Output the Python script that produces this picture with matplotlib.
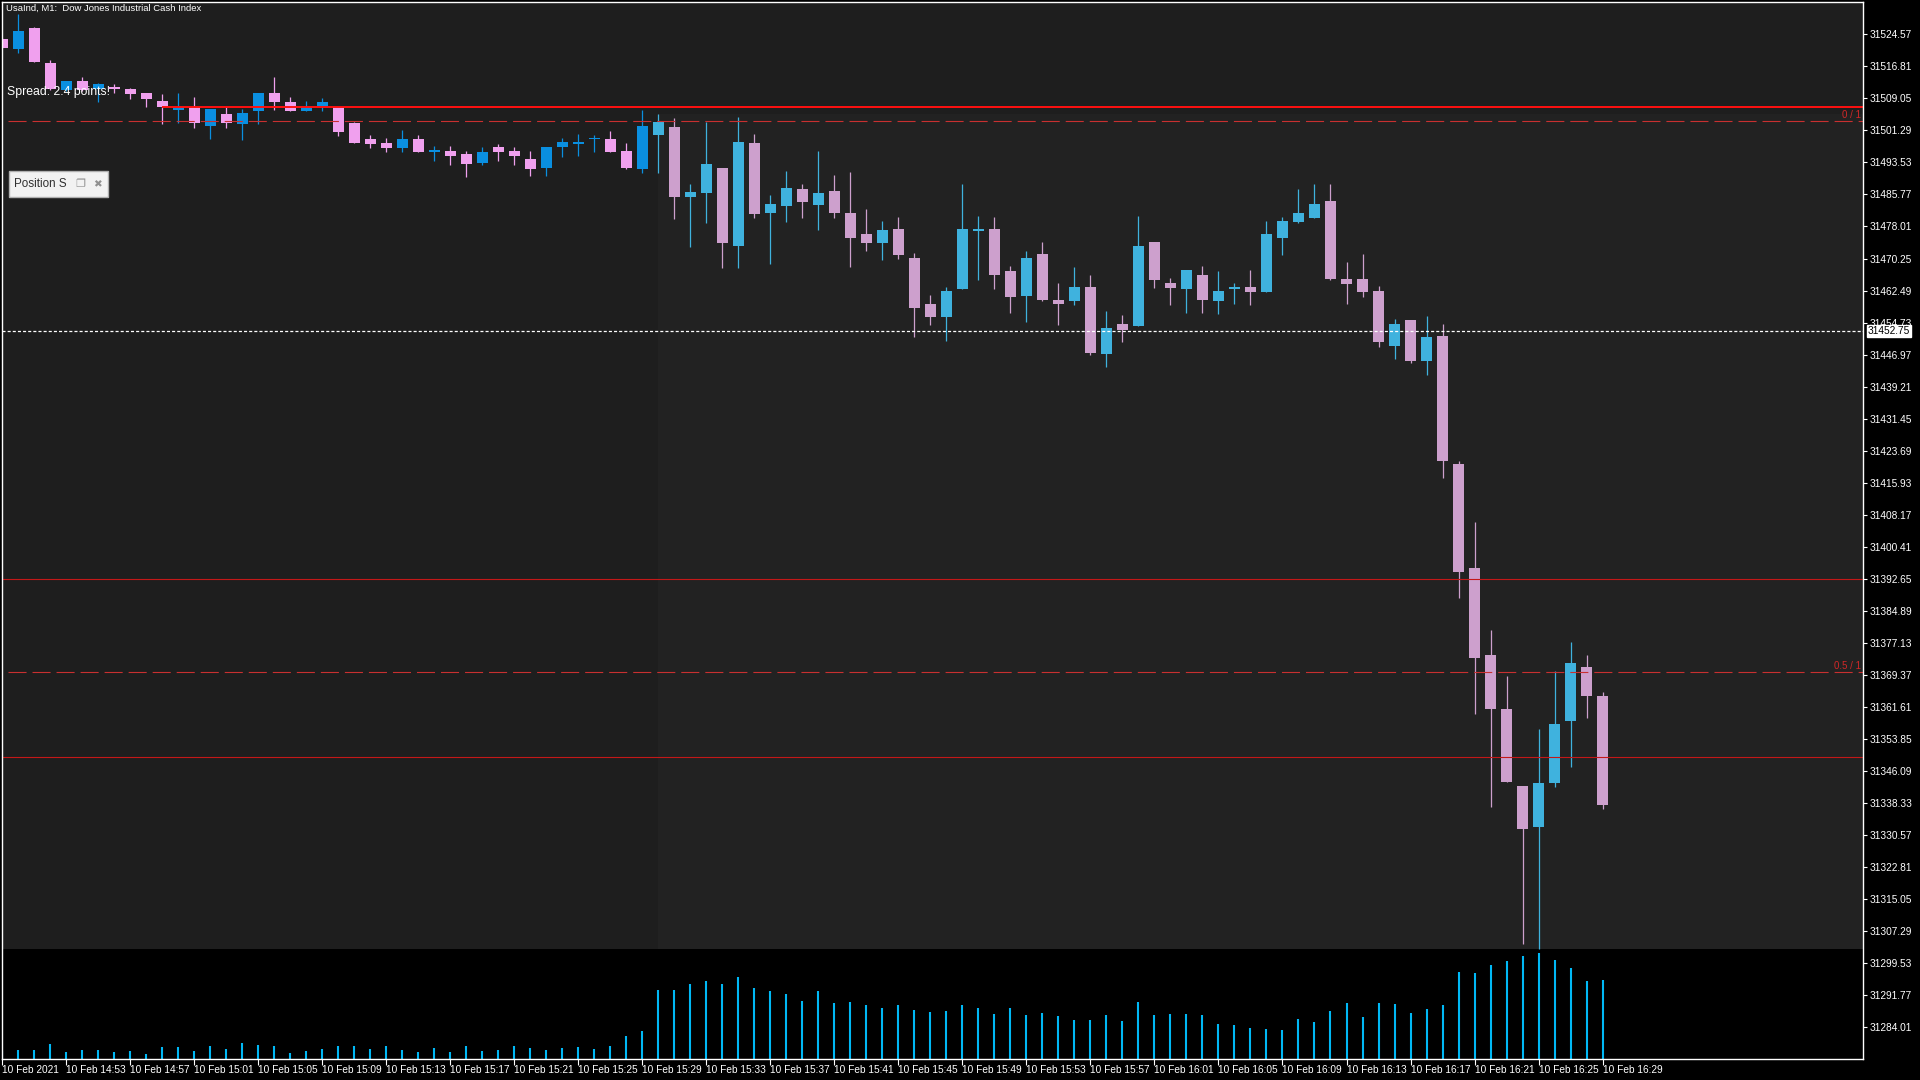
import numpy as np
import matplotlib
matplotlib.use("Agg")
import matplotlib.pyplot as plt
from matplotlib.patches import Rectangle
from matplotlib.transforms import Bbox, TransformedBbox

plt.rcParams['font.family'] = ['Liberation Sans', 'DejaVu Sans']
plt.rcParams['lines.scale_dashes'] = False

# one-minute bars, 10 Feb 2021 from 14:49 to 16:29
opens = [31523.43, 31521.01, 31526.10, 31517.54, 31511.07, 31513.26, 31511.24, 31511.45, 31511.32, 31510.35,
         31508.41, 31506.31, 31507.04, 31502.43, 31505.26, 31502.92, 31506.07, 31510.35, 31508.17, 31506.07,
         31507.20, 31507.04, 31503.08, 31499.20, 31498.15, 31497.10, 31499.20, 31496.13, 31496.30, 31495.57,
         31493.47, 31497.27, 31496.30, 31494.36, 31492.26, 31497.35, 31498.07, 31499.15, 31499.20, 31496.30,
         31492.02, 31500.25, 31502.11, 31485.15, 31486.12, 31492.17, 31473.28, 31498.23, 31481.27, 31482.97,
         31487.09, 31483.21, 31486.60, 31481.27, 31476.18, 31474.00, 31477.39, 31470.37, 31459.22, 31456.16,
         31462.94, 31476.91, 31477.40, 31467.23, 31461.17, 31471.35, 31460.20, 31459.96, 31463.35, 31447.12,
         31454.39, 31453.90, 31474.25, 31464.32, 31462.87, 31466.26, 31459.96, 31462.87, 31463.35, 31462.14,
         31475.22, 31479.10, 31480.07, 31484.19, 31465.29, 31465.29, 31462.38, 31449.06, 31455.31, 31445.32,
         31451.47, 31420.42, 31395.30, 31374.24, 31361.07, 31342.43, 31332.45, 31343.08, 31358.11, 31371.28,
         31364.26]
highs = [31523.60, 31529.49, 31526.42, 31518.34, 31513.30, 31514.14, 31512.69, 31512.53, 31511.48, 31510.35,
         31510.11, 31510.35, 31509.30, 31506.47, 31506.96, 31506.47, 31510.35, 31514.22, 31509.38, 31508.41,
         31509.14, 31507.04, 31503.32, 31500.25, 31499.53, 31501.38, 31500.17, 31497.51, 31497.51, 31496.30,
         31497.27, 31498.00, 31497.27, 31496.30, 31497.27, 31499.45, 31500.41, 31500.17, 31501.14, 31498.24,
         31506.23, 31505.26, 31504.29, 31488.30, 31503.32, 31492.17, 31504.53, 31500.41, 31485.63, 31491.45,
         31488.30, 31496.29, 31490.48, 31491.21, 31482.24, 31479.33, 31480.30, 31471.58, 31461.40, 31463.34,
         31488.30, 31480.55, 31480.31, 31468.44, 31472.07, 31474.25, 31464.32, 31468.20, 31466.26, 31457.54,
         31456.57, 31480.55, 31474.25, 31465.53, 31467.47, 31468.44, 31467.23, 31464.32, 31467.47, 31479.34,
         31480.31, 31487.09, 31488.31, 31488.31, 31469.41, 31471.35, 31463.59, 31455.60, 31455.31, 31456.29,
         31454.43, 31421.19, 31406.38, 31380.27, 31369.08, 31342.43, 31356.25, 31370.29, 31377.31, 31374.24,
         31365.24]
lows = [31521.20, 31520.12, 31517.94, 31511.07, 31510.90, 31510.91, 31508.25, 31510.27, 31508.98, 31507.04,
        31502.84, 31503.08, 31501.95, 31499.28, 31501.95, 31499.04, 31502.92, 31506.23, 31506.07, 31506.07,
        31506.07, 31500.01, 31498.32, 31497.10, 31496.13, 31496.13, 31496.13, 31493.87, 31492.99, 31490.08,
        31492.99, 31493.95, 31492.99, 31490.32, 31490.32, 31494.92, 31495.17, 31496.13, 31496.13, 31492.02,
        31491.05, 31491.05, 31479.90, 31473.12, 31478.93, 31468.03, 31468.03, 31480.14, 31469.00, 31479.17,
        31480.14, 31477.23, 31480.14, 31468.27, 31472.15, 31469.97, 31470.21, 31451.31, 31454.22, 31450.34,
        31462.94, 31465.12, 31462.87, 31457.05, 31454.87, 31459.96, 31454.14, 31458.99, 31446.88, 31443.97,
        31450.03, 31453.90, 31463.11, 31458.99, 31457.05, 31457.05, 31456.81, 31459.23, 31458.99, 31462.14,
        31471.10, 31478.86, 31480.07, 31465.05, 31459.23, 31460.93, 31448.81, 31445.91, 31444.89, 31442.14,
        31417.13, 31388.06, 31359.98, 31337.27, 31343.30, 31304.10, 31302.90, 31342.32, 31347.14, 31358.99,
        31336.94]
closes = [31521.33, 31525.37, 31517.94, 31511.24, 31513.26, 31511.07, 31512.53, 31511.40, 31510.19, 31508.98,
          31507.04, 31507.04, 31503.08, 31506.47, 31503.16, 31505.50, 31510.35, 31508.25, 31506.07, 31507.04,
          31508.17, 31500.98, 31498.32, 31498.07, 31497.10, 31499.20, 31496.13, 31496.54, 31495.17, 31493.23,
          31496.05, 31496.13, 31495.17, 31492.02, 31497.27, 31498.48, 31498.48, 31499.20, 31496.13, 31492.26,
          31502.35, 31503.32, 31485.15, 31486.36, 31493.14, 31474.00, 31498.47, 31481.03, 31483.45, 31487.33,
          31483.94, 31486.12, 31481.27, 31475.30, 31474.00, 31477.15, 31471.18, 31458.34, 31456.16, 31462.37,
          31477.39, 31477.39, 31466.26, 31460.93, 31470.38, 31460.20, 31459.23, 31463.35, 31447.36, 31453.42,
          31452.93, 31473.28, 31465.05, 31463.11, 31467.47, 31460.20, 31462.38, 31463.35, 31462.14, 31476.19,
          31479.34, 31481.28, 31483.46, 31465.29, 31464.08, 31462.14, 31450.03, 31454.39, 31445.32, 31451.25,
          31421.08, 31394.42, 31373.36, 31361.18, 31343.30, 31332.12, 31343.19, 31357.45, 31372.26, 31364.37,
          31337.93]
tick_volume = [8, 9, 9, 15, 7, 9, 9, 7, 8, 5, 12, 12, 8, 13, 10, 16, 14, 13, 6, 8, 10,
               13, 13, 10, 13, 9, 7, 11, 7, 13, 8, 9, 13, 11, 9, 11, 12, 10, 13, 23, 28,
               69, 69, 75, 78, 75, 82, 71, 68, 65, 58, 68, 56, 57, 54, 51, 54, 49, 47, 48,
               54, 51, 45, 51, 44, 46, 43, 39, 39, 44, 38, 57, 44, 45, 45, 44, 35, 34, 31,
               30, 29, 40, 37, 48, 56, 42, 56, 55, 46, 50, 54, 87, 86, 94, 98, 103, 106,
               99, 91, 78, 79]

time_labels = ["10 Feb 2021", "10 Feb 14:53", "10 Feb 14:57", "10 Feb 15:01", "10 Feb 15:05",
               "10 Feb 15:09", "10 Feb 15:13", "10 Feb 15:17", "10 Feb 15:21", "10 Feb 15:25",
               "10 Feb 15:29", "10 Feb 15:33", "10 Feb 15:37", "10 Feb 15:41", "10 Feb 15:45",
               "10 Feb 15:49", "10 Feb 15:53", "10 Feb 15:57", "10 Feb 16:01", "10 Feb 16:05",
               "10 Feb 16:09", "10 Feb 16:13", "10 Feb 16:17", "10 Feb 16:21", "10 Feb 16:25",
               "10 Feb 16:29"]
price_ticks = [31284.01, 31291.77, 31299.53, 31307.29, 31315.05, 31322.81, 31330.57, 31338.33,
               31346.09, 31353.85, 31361.61, 31369.37, 31377.13, 31384.89, 31392.65, 31400.41,
               31408.17, 31415.93, 31423.69, 31431.45, 31439.21, 31446.97, 31454.73, 31462.49,
               31470.25, 31478.01, 31485.77, 31493.53, 31501.29, 31509.05, 31516.81, 31524.57]

bid_price = 31452.75
level_top = 31507.07
fibo_0 = 31503.50
fibo_05 = 31370.00
red_levels = [31392.57, 31349.55]

# layout
W, H = 1920, 1080
fig = plt.figure(figsize=(19.2, 10.8), dpi=100, facecolor='black')
ax_h_px = 1059.2 - 2
ax = fig.add_axes([2.45 / W, 1 - 1059.2 / H, (1863 - 2.45) / W, ax_h_px / H])
xmax = 116.28
ymin, ymax = 31276.26, 31532.40
ax.set_xlim(0, xmax)
ax.set_ylim(ymin, ymax)
ax.set_facecolor('black')

vol_top = 31302.95
ax.add_patch(Rectangle((0, vol_top), xmax, ymax - vol_top, color='#1e1e1e', zorder=0, lw=0))
ax.add_patch(Rectangle((40.95, vol_top), xmax - 40.95, 31505.26 - vol_top, color='#222222', zorder=0.5, lw=0))

# candles
x = np.arange(len(opens))
for i in x:
    o, h, l, c = opens[i], highs[i], lows[i], closes[i]
    up = c >= o
    if i <= 40:
        col = '#0a8fe0' if up else '#f0a0ee'
    else:
        col = '#3fb2de' if up else '#cda0cd'
    ax.vlines(i, l, h, color=col, lw=0.9, zorder=2)
    body = max(abs(c - o), 0.35)
    ax.bar(i, body, bottom=min(o, c), width=0.69, color=col, lw=0, zorder=3)

# tick volumes drawn in pixel scale at the bottom of the price window
price_per_px = (ymax - ymin) / ax_h_px
ax.vlines(x, ymin, ymin + np.array(tick_volume) * price_per_px, color='#00b8f5', lw=1.5, zorder=1.5)

# levels
ax.hlines(level_top, 10, xmax, color='#ff1010', lw=1.4, zorder=4)
for lv in red_levels:
    ax.axhline(lv, color='#c41818', lw=0.8, zorder=4)
for lv, name in [(fibo_0, '0 / 1'), (fibo_05, '0.5 / 1')]:
    ax.hlines(lv, 0.35, xmax, color='#c83030', lw=0.8, linestyles=[(0, (13, 4.3))], zorder=4)
    ax.text(xmax - 0.12, lv + 0.35, name, color='#d02828', fontsize=7,
            ha='right', va='bottom', zorder=5)
ax.axhline(bid_price, color='white', lw=0.9, ls=(0, (2.2, 1.5)), zorder=4)

# axes styling
for s in ax.spines.values():
    s.set_color('white')
    s.set_linewidth(1.0)
    s.set_zorder(6)
ax.yaxis.tick_right()
ax.set_yticks(price_ticks)
ax.set_yticklabels([f"{p:.2f}" for p in price_ticks])
ax.tick_params(axis='y', colors='white', labelsize=7.3, length=3, width=0.8, pad=1.5)
ax.set_xticks(np.arange(0, 101, 4))
ax.set_xticklabels(time_labels)
ax.tick_params(axis='x', colors='white', labelsize=7.3, length=4, width=0.8, pad=0.5)
for lab in ax.get_xticklabels():
    lab.set_horizontalalignment('left')

ax.annotate(f"{bid_price:.2f}", xy=(1.0, bid_price), xycoords=('axes fraction', 'data'),
            xytext=(3.5, 0), textcoords='offset points', ha='left', va='center',
            fontsize=7.3, color='black', zorder=10, annotation_clip=False,
            bbox=dict(boxstyle='square,pad=0.12', fc='white', ec='white'))

# overlays
fig.text(6 / W, 1 - 4 / H, "UsaInd, M1:  Dow Jones Industrial Cash Index", color='white',
         fontsize=6.8, ha='left', va='top')
fig.text(7 / W, 1 - 91.5 / H, "Spread: 2.4 points!", color='white', fontsize=8.8,
         ha='left', va='center')

fig.add_artist(Rectangle((9 / W, 1 - 197 / H), 99 / W, 26 / H, transform=fig.transFigure,
                         fc='#f2f2f2', ec='#b0b0b0', lw=1))
t = fig.text(14 / W, 1 - 184 / H, "Position S", color='#303030', fontsize=8.4,
             ha='left', va='center')
t.set_clip_box(TransformedBbox(Bbox([[9 / W, 1 - 197 / H], [70 / W, 1 - 171 / H]]), fig.transFigure))
t.set_clip_on(True)
fig.text(80 / W, 1 - 184 / H, "\u2750", color='#909090', fontsize=8, ha='center', va='center',
         family=['DejaVu Sans'])
fig.text(97 / W, 1 - 184 / H, "\u2716", color='#909090', fontsize=7.5, ha='center', va='center',
         family=['DejaVu Sans'])

fig.savefig("out.png", dpi=100, facecolor='black')
